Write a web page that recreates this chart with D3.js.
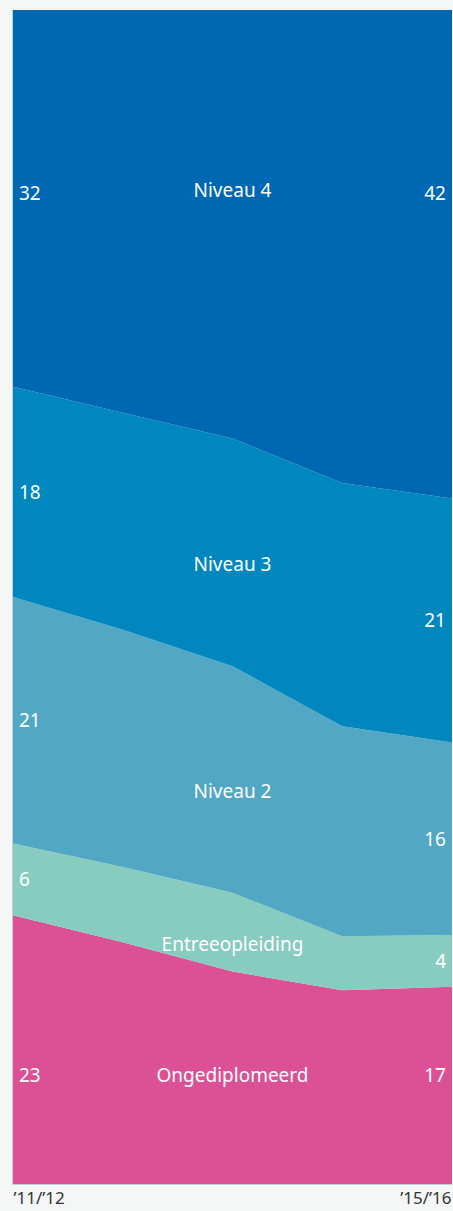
<!DOCTYPE html>
<html>
<head>
<meta charset="utf-8">
<script src="https://cdn.jsdelivr.net/npm/d3@7"></script>
<style>
  html, body { margin: 0; padding: 0; background: #f4f7f6; }
  svg { display: block; }
</style>
</head>
<body>
<div id="chart"></div>
<script>
// school years (x)
let years = ["’11/’12", "’12/’13", "’13/’14", "’14/’15", "’15/’16"];

// share per level, percent, bottom to top
let seriesNames = ["Ongediplomeerd", "Entreeopleiding", "Niveau 2", "Niveau 3", "Niveau 4"];
let ongediplomeerd = [22.9, 20.6, 18.1, 16.5, 16.8];
let entreeopleiding = [6.1, 6.4, 6.7, 4.6, 4.4];
let niveau2 = [21.0, 20.2, 19.3, 17.9, 16.4];
let niveau3 = [17.9, 18.5, 19.4, 20.7, 20.8];
let niveau4 = [32.1, 34.3, 36.5, 40.3, 41.6];

let colors = ["#dc5195", "#88cbbf", "#52a8c4", "#0088be", "#0067b2"];

let rows = years.map(function(y, i) {
  return {
    year: y,
    "Ongediplomeerd": ongediplomeerd[i],
    "Entreeopleiding": entreeopleiding[i],
    "Niveau 2": niveau2[i],
    "Niveau 3": niveau3[i],
    "Niveau 4": niveau4[i]
  };
});

function renderChart() {
  let width = 453,
    height = 1211;

  let svg = d3.select("#chart")
    .append("svg")
    .attr("width", width)
    .attr("height", height);

  let x = d3.scalePoint()
    .domain(years)
    .range([13, 452]);

  let y = d3.scaleLinear()
    .domain([0, 100])
    .range([1184, 10]);

  let stacked = d3.stack().keys(seriesNames)(rows);

  let area = d3.area()
    .x(d => x(d.data.year))
    .y0(d => y(d[0]))
    .y1(d => y(d[1]));

  svg.append("g")
    .selectAll("path")
    .data(stacked)
    .enter()
    .append("path")
    .attr("d", area)
    .attr("fill", (d, i) => colors[i]);

  // thin frame line left and bottom
  svg.append("path")
    .attr("d", `M${x(years[0]) - 0.5},${y(100)}V${y(0) + 0.5}H${x(years[years.length - 1])}`)
    .attr("fill", "none")
    .attr("stroke", "#b9d2de")
    .attr("stroke-width", 1);

  // labels
  let last = years.length - 1,
    mid = Math.floor(years.length / 2);

  function bandMid(layer, i) {
    return (y(layer[i][0]) + y(layer[i][1])) / 2;
  }

  let labels = [];
  stacked.forEach(function(layer, s) {
    let leftY = bandMid(layer, 0),
      rightY = bandMid(layer, last),
      centerY = bandMid(layer, mid) + 12;
    if (s === stacked.length - 1) {
      leftY = leftY - 5; rightY = leftY; centerY = leftY - 3;
    }
    if (s === 0) {
      leftY = bandMid(layer, mid) - 3; rightY = leftY; centerY = leftY;
    }
    labels.push({ text: Math.round(layer[0].data[layer.key]), x: x(years[0]) + 6, y: leftY, anchor: "start" });
    labels.push({ text: layer.key, x: x(years[mid]), y: centerY, anchor: "middle" });
    labels.push({ text: Math.round(layer[last].data[layer.key]), x: x(years[last]) - 6, y: rightY, anchor: "end" });
  });

  svg.append("g")
    .selectAll("text")
    .data(labels)
    .enter()
    .append("text")
    .attr("x", d => d.x)
    .attr("y", d => d.y)
    .attr("dy", "0.36em")
    .attr("text-anchor", d => d.anchor)
    .style("font-family", "'Noto Sans', sans-serif")
    .style("font-size", "19px")
    .style("fill", "#ffffff")
    .text(d => d.text);

  // x axis: first and last year only
  let axis = svg.append("g")
    .attr("transform", `translate(0,${y(0)})`)
    .call(d3.axisBottom(x).tickValues([years[0], years[last]]).tickSize(0).tickPadding(8));

  axis.select(".domain").remove();
  axis.selectAll("text")
    .style("font-family", "'Noto Sans', sans-serif")
    .style("font-size", "17px")
    .style("fill", "#333333")
    .attr("text-anchor", (d, i) => i === 0 ? "start" : "end")
    .attr("dx", (d, i) => i === 0 ? 0 : -1);
}

renderChart();
</script>
</body>
</html>
